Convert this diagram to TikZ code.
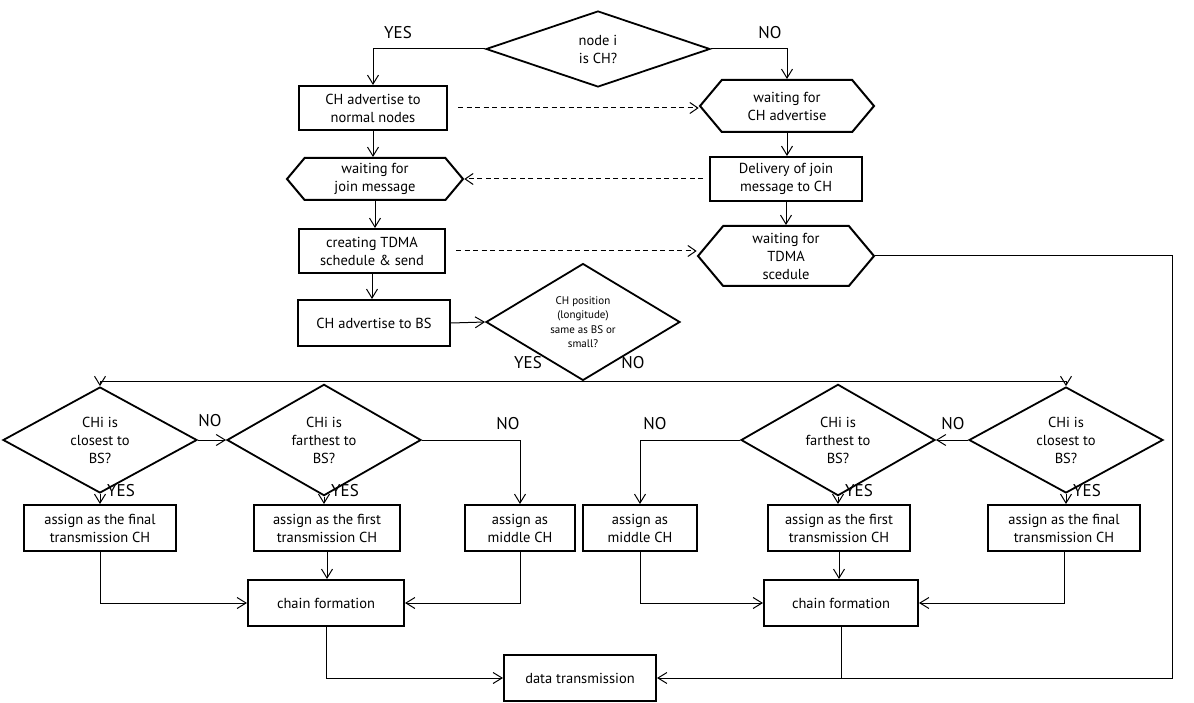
\documentclass[tikz,border=0pt]{standalone}
\usepackage{fontspec}
\setmainfont{PT Sans}
\usetikzlibrary{shapes.geometric,shapes.symbols,arrows.meta}
\begin{document}
\begin{tikzpicture}[x=1pt,y=-1pt,
  every node/.style={font=\fontsize{14.5}{18}\selectfont, align=center, inner sep=0pt},
  box/.style={draw, line width=2pt, minimum width=#1, minimum height=44pt},
  hexa/.style={draw, line width=2pt, signal, signal to=west and east, signal pointer angle=100},
  dia/.style={draw, diamond, line width=1.8pt, minimum width=194pt, minimum height=76pt},
  conn/.style={line width=1pt, -{Straight Barb[length=9pt,width=11pt,line width=1pt]}},
  plain/.style={line width=1pt},
  dasharrow/.style={line width=1pt, dash pattern=on 5pt off 3.5pt, -{Straight Barb[length=8pt,width=11pt,line width=1pt]}},
  lab/.style={font=\fontsize{17}{20}\selectfont}
]
\useasboundingbox (0,0) rectangle (1194,703);

% top part
\node[dia, minimum width=224pt, minimum height=76pt] (q1) at (598,49) {node i\\is CH?};
\node[box=148pt, minimum height=44pt] (b1) at (373,108) {CH advertise to\\normal nodes};
\node[hexa, minimum width=174pt, minimum height=52pt] (h1) at (787,106) {waiting for\\CH advertise};
\node[hexa, minimum width=176pt, minimum height=42pt] (h2) at (375,179) {waiting for\\join message};
\node[box=152pt] (b2) at (786,179) {Delivery of join\\message to CH};
\node[box=146pt] (b3) at (372,251) {creating TDMA\\schedule \& send};
\node[hexa, minimum width=176pt, minimum height=60pt] (h3) at (786,256) {waiting for\\TDMA\\scedule};
\node[box=152pt, minimum height=46pt] (b4) at (374,323) {CH advertise to BS};
\node[dia, minimum width=194pt, minimum height=74pt, font=\fontsize{11}{14.5}\selectfont] (q2) at (583,322) {CH position\\(longitude)\\same as BS or\\small?};
\coordinate (split) at (583,381);
\coordinate (rx) at (1172,0);

% second level
\node[dia] (L1) at (100,440) {CHi is\\closest to\\BS?};
\node[dia] (L2) at (324,440) {CHi is\\farthest to\\BS?};
\node[dia] (R2) at (838,440) {CHi is\\farthest to\\BS?};
\node[dia] (R1) at (1066,440) {CHi is\\closest to\\BS?};

\node[box=152pt, minimum height=46pt] (LA) at (100,528) {assign as the final\\transmission CH};
\node[box=146pt, minimum height=46pt] (LB) at (327,528) {assign as the first\\transmission CH};
\node[box=110pt, minimum height=46pt] (LC) at (520,528) {assign as\\middle CH};
\node[box=114pt, minimum height=46pt] (RC) at (640,528) {assign as\\middle CH};
\node[box=142pt, minimum height=46pt] (RB) at (839,528) {assign as the first\\transmission CH};
\node[box=152pt, minimum height=46pt] (RA) at (1064,528) {assign as the final\\transmission CH};

\node[box=156pt, minimum height=46pt] (CL) at (326,603) {chain formation};
\node[box=154pt, minimum height=46pt] (CR) at (841,603) {chain formation};
\node[box=152pt, minimum height=46pt] (D) at (580,678) {data transmission};

% connectors top
\draw[conn] (q1.west) -| (b1.north);
\draw[conn] (q1.east) -| (h1.north);
\node[lab] (yes1) at (398,33) {YES};
\node[lab] (no1) at (770,33) {NO};
\draw[dasharrow] ([xshift=10pt]b1.east) -- (b1.east -| h1.west);
\draw[conn] (b1.south) -- (b1.south |- h2.north);
\draw[conn] (h1.south) -- (h1.south |- b2.north);
\draw[dasharrow] ([xshift=-6pt]b2.west) -- (b2.west -| h2.east);
\draw[conn] (h2.south) -- (h2.south |- b3.north);
\draw[conn] (b2.south) -- (b2.south |- h3.north);
\draw[dasharrow] ([xshift=10pt]b3.east) -- (b3.east -| h3.west);
\draw[conn] (b3.south) -- (b3.south |- b4.north);
\draw[conn] (b4.east) -- (q2.west);
\draw[plain] (q2.south) -- (split);
\draw[conn] (split) -| (L1.north);
\draw[conn] (split) -| (R1.north);
\node[lab] (yes2) at (528,363) {YES};
\node[lab] (no2) at (633,363) {NO};

% left branch
\draw[conn] (L1.east) -- (L2.west);
\node[lab] (no3) at (210,421) {NO};
\draw[conn] (L1.south) -- (L1.south |- LA.north);
\node[lab, anchor=west] (yes3) at (107,491) {YES};
\draw[conn] (L2.south) -- (L2.south |- LB.north);
\node[lab, anchor=west] (yes4) at (331,491) {YES};
\draw[conn] (L2.east) -| (LC.north);
\node[lab] (no4) at (508,424) {NO};

% right branch
\draw[conn] (R1.west) -- (R2.east);
\node[lab] (no5) at (953,424) {NO};
\draw[conn] (R2.west) -| (RC.north);
\node[lab] (no6) at (655,424) {NO};
\draw[conn] (R2.south) -- (R2.south |- RB.north);
\node[lab, anchor=west] (yes5) at (845,491) {YES};
\draw[conn] (R1.south) -- (R1.south |- RA.north);
\node[lab, anchor=west] (yes6) at (1073,491) {YES};

% chains
\draw[conn] (LA.south) |- (CL.west);
\draw[conn] (LB.south) -- (LB.south |- CL.north);
\draw[conn] (LC.south) |- (CL.east);
\draw[conn] (RC.south) |- (CR.west);
\draw[conn] (RB.south) -- (RB.south |- CR.north);
\draw[conn] (RA.south) |- (CR.east);

% data
\draw[conn] (CL.south) |- (D.west);
\draw[conn] (h3.east) -- (h3.east -| rx) |- (D.east);
\draw[plain] (CR.south) -- (CR.south |- D.east);
\end{tikzpicture}
\end{document}
